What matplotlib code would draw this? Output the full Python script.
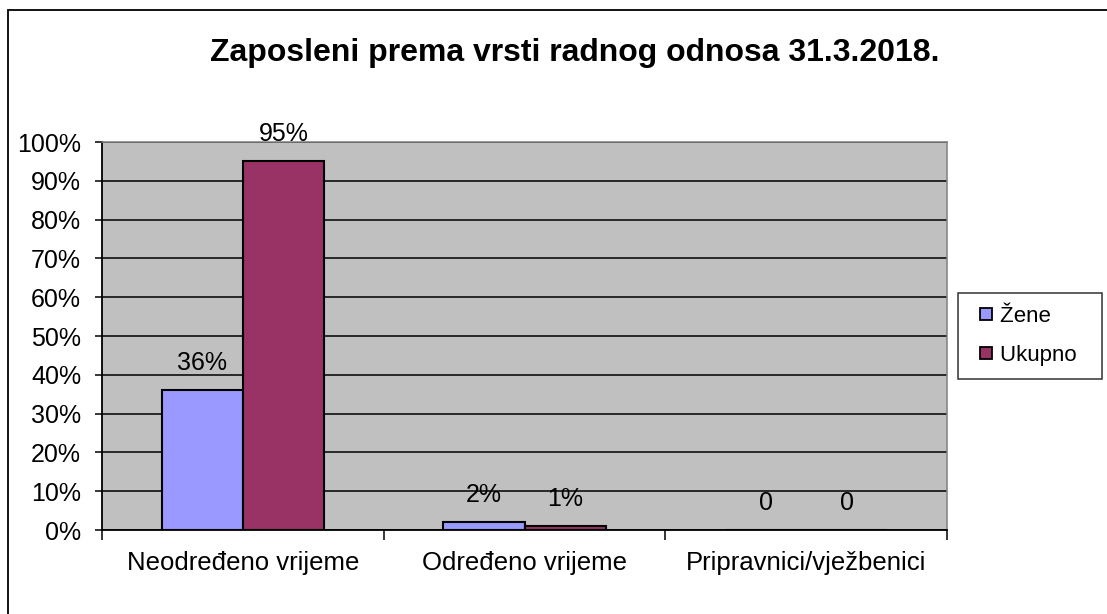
import matplotlib
matplotlib.use("Agg")
import matplotlib.pyplot as plt
from matplotlib.patches import Rectangle
from matplotlib.lines import Line2D

categories = ["Neodređeno vrijeme", "Određeno vrijeme", "Pripravnici/vježbenici"]
zene = [36, 2, 0]
ukupno = [95, 1, 0]
zene_labels = ["36%", "2%", "0"]
ukupno_labels = ["95%", "1%", "0"]
series_names = ["Žene", "Ukupno"]
yticks = [0, 10, 20, 30, 40, 50, 60, 70, 80, 90, 100]

plt.rcParams['font.family'] = ['Liberation Sans', 'DejaVu Sans']

fig = plt.figure(figsize=(11.07, 6.14), dpi=100)
W, H = 1107, 614
# outer chart frame
fig.patches.append(Rectangle((8 / W, -0.1), 1.2, 1 - 10 / H + 0.1, transform=fig.transFigure,
                             fill=False, edgecolor='black', linewidth=1.3))

ax = fig.add_axes([102 / W, 1 - 530 / H, 845 / W, 388 / H])
ax.set_facecolor('#C0C0C0')

x = list(range(len(categories)))
bw = 0.288
c_z = '#9999FF'
c_u = '#993366'
bz = ax.bar([i - bw / 2 for i in x], zene, width=bw, color=c_z, edgecolor='black', linewidth=1.5, zorder=3)
bu = ax.bar([i + bw / 2 for i in x], ukupno, width=bw, color=c_u, edgecolor='black', linewidth=1.5, zorder=3)

for bars, labs in ((bz, zene_labels), (bu, ukupno_labels)):
    for b, lab in zip(bars, labs):
        ax.annotate(lab, (b.get_x() + b.get_width() / 2, b.get_height()),
                    xytext=(0, 19.5), textcoords='offset points', ha='center', va='center',
                    fontsize=18, zorder=4)

ax.set_ylim(0, 100)
ax.set_xlim(-0.5, 2.5)
ax.set_yticks(yticks)
ax.set_yticklabels([f"{v}%" for v in yticks], fontsize=18)
ax.yaxis.grid(True, color='black', linewidth=1.1, zorder=1)
ax.set_axisbelow(True)

ax.set_xticks([-0.5, 0.5, 1.5, 2.5])
ax.set_xticklabels([])
ax.set_xticks(x, minor=True)
ax.set_xticklabels(categories, minor=True, fontsize=18.5)
ax.tick_params(axis='x', which='major', length=7, width=1.1, direction='out')
ax.tick_params(axis='x', which='minor', length=0, pad=15)
ax.tick_params(axis='y', length=5, width=1.1, pad=10)

for s in ['top', 'right']:
    ax.spines[s].set_color('#808080')
    ax.spines[s].set_linewidth(1.1)
for s in ['left', 'bottom']:
    ax.spines[s].set_color('black')
    ax.spines[s].set_linewidth(1.3)

fig.text(575 / W, 1 - 53 / H, "Zaposleni prema vrsti radnog odnosa 31.3.2018.",
         ha='center', va='center', fontsize=23, fontweight='bold')

handles = [Line2D([], [], marker='s', linestyle='none', markersize=9, markerfacecolor=c,
                  markeredgecolor='black', markeredgewidth=1.3) for c in (c_z, c_u)]
leg = fig.legend(handles, [n + "  " for n in series_names], loc='center',
                 bbox_to_anchor=(1030 / W, 1 - 336 / H),
                 frameon=True, fancybox=False, edgecolor='black', fontsize=16,
                 handletextpad=0.0, handlelength=1.3, labelspacing=0.8, borderpad=0.6,
                 borderaxespad=0)
leg.get_frame().set_linewidth(1.1)

fig.savefig('out.png', dpi=100, facecolor='white')
